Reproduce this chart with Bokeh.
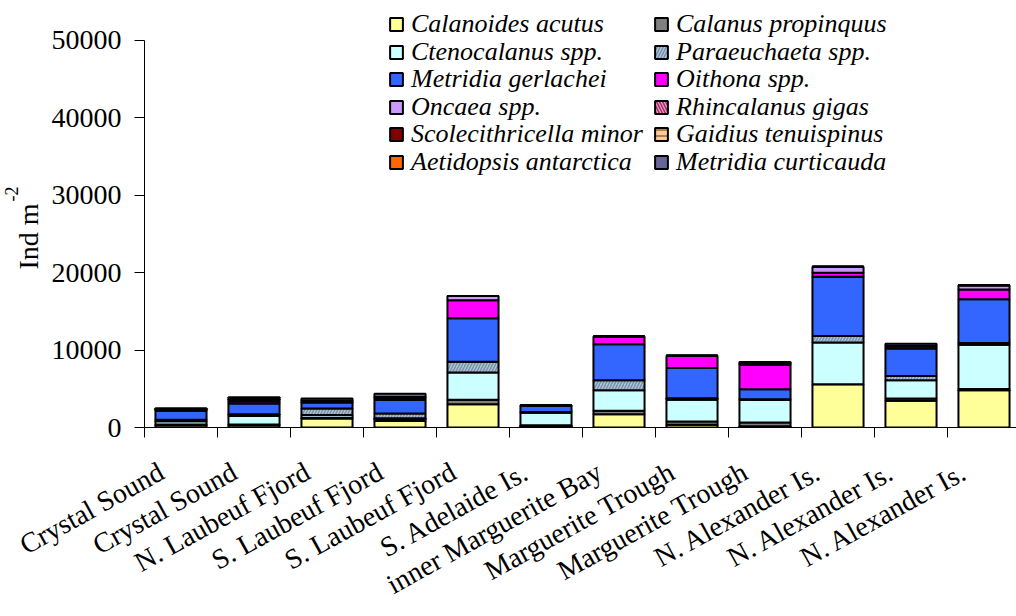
from math import radians
from bokeh.plotting import figure
from bokeh.models import (ColumnDataSource, FixedTicker, Legend, LegendItem, Range1d, Title)
from bokeh.embed import file_html
from bokeh.resources import INLINE

sites = ["Crystal Sound", "Crystal Sound", "N. Laubeuf Fjord", "S. Laubeuf Fjord",
         "S. Laubeuf Fjord", "S. Adelaide Is.", "inner Marguerite Bay", "Marguerite Trough",
         "Marguerite Trough", "N. Alexander Is.", "N. Alexander Is.", "N. Alexander Is."]

species = ["Calanoides acutus", "Calanus propinquus", "Ctenocalanus spp.", "Paraeuchaeta spp.",
           "Metridia gerlachei", "Oithona spp.", "Oncaea spp.", "Rhincalanus gigas",
           "Scolecithricella minor", "Gaidius tenuispinus", "Aetidopsis antarctica",
           "Metridia curticauda"]

calanoides_acutus = [300, 300, 1150, 850, 3010, 150, 1720, 350, 150, 5590, 3440, 4810]
calanus_propinquus = [100, 100, 100, 150, 560, 150, 430, 430, 500, 0, 300, 150]
ctenocalanus_spp = [400, 1100, 350, 200, 3530, 1600, 2670, 2800, 2900, 5380, 2360, 5720]
paraeuchaeta_spp = [200, 200, 850, 600, 1380, 100, 1290, 200, 100, 860, 560, 250]
metridia_gerlachei = [1200, 1400, 800, 1750, 5630, 800, 4640, 3900, 1300, 7650, 3570, 5630]
oithona_spp = [0, 300, 0, 0, 2320, 50, 990, 1590, 3150, 520, 0, 1250]
oncaea_spp = [0, 0, 0, 0, 560, 0, 0, 0, 0, 770, 0, 560]
rhincalanus_gigas = [0, 0, 0, 0, 0, 0, 0, 0, 150, 0, 0, 0]
scolecithricella_minor = [150, 250, 200, 300, 0, 0, 0, 0, 100, 0, 300, 0]
gaidius_tenuispinus = [0, 0, 0, 0, 0, 0, 0, 0, 0, 0, 0, 0]
aetidopsis_antarctica = [0, 0, 0, 100, 0, 0, 0, 0, 0, 0, 0, 0]
metridia_curticauda = [150, 250, 300, 400, 0, 0, 0, 0, 100, 0, 300, 0]

series = [calanoides_acutus, calanus_propinquus, ctenocalanus_spp, paraeuchaeta_spp,
          metridia_gerlachei, oithona_spp, oncaea_spp, rhincalanus_gigas,
          scolecithricella_minor, gaidius_tenuispinus, aetidopsis_antarctica,
          metridia_curticauda]

y_ticks = [0, 10000, 20000, 30000, 40000, 50000]
y_label = "Ind m"
y_label_sup = "-2"

fill_colors = ["#FFFF99", "#808080", "#CCFFFF", "#99CCFF", "#3366FF", "#FF00FF",
               "#CC99FF", "#FF99CC", "#800000", "#FFCC99", "#FF6600", "#666699"]
hatch_patterns = [None, None, None, "/", None, None, None, "\\", None, "-", None, None]
hatch_colors = ["black", "black", "black", "#8C8C8C", "black", "black", "black",
                "#993366", "black", "#996633", "black", "black"]

FONT = "Liberation Serif"
W, H = 1016, 616
FRAME_LEFT, FRAME_TOP, FRAME_BOTTOM = 144, 5, 428
CAT_PX = 73.0                      # pixels per category
PX_PER_UNIT = 388 / 50000          # 0..50000 spans 388 px
LABEL_SHIFT = 0.27                 # rotated labels end slightly left of bar centre

x_pos = [i + 0.5 for i in range(len(sites))]
data = {"x": x_pos}
for name, vals in zip(species, series):
    data[name] = vals
source = ColumnDataSource(data)

y_top = 50000 + (40 - FRAME_TOP) / PX_PER_UNIT
p = figure(width=W, height=H,
           x_range=Range1d(0, (W - FRAME_LEFT) / CAT_PX),
           y_range=Range1d(0, y_top),
           output_backend="svg", toolbar_location=None,
           min_border_left=FRAME_LEFT, min_border_right=0,
           min_border_top=FRAME_TOP, min_border_bottom=H - FRAME_BOTTOM)

renderers = p.vbar_stack(species, x="x", width=0.7, source=source,
                         fill_color=fill_colors, line_color="black", line_width=2,
                         hatch_pattern=hatch_patterns, hatch_color=hatch_colors,
                         hatch_weight=1.5, hatch_scale=6)

p.grid.visible = False
p.outline_line_color = None
p.background_fill_color = "white"

label_ticks = [x - LABEL_SHIFT for x in x_pos]
xa = p.xaxis[0]
xa.ticker = FixedTicker(ticks=label_ticks, minor_ticks=list(range(len(sites))))
xa.major_label_overrides = {x: s for x, s in zip(label_ticks, sites)}
xa.major_label_orientation = radians(29)
xa.major_tick_out = 0
xa.major_tick_in = 0
xa.minor_tick_out = 10
xa.minor_tick_in = 0
xa.major_label_standoff = 32
xa.major_label_text_font = FONT
xa.major_label_text_font_size = "28px"
xa.major_label_text_color = "black"
xa.axis_line_color = "black"

ya = p.yaxis[0]
ya.ticker = FixedTicker(ticks=y_ticks, minor_ticks=[])
ya.bounds = (0, 50000)
ya.major_tick_out = 10
ya.major_tick_in = 0
ya.minor_tick_out = 0
ya.minor_tick_in = 0
ya.major_label_standoff = 13
ya.major_label_text_font = FONT
ya.major_label_text_font_size = "28px"
ya.major_label_text_color = "black"
ya.axis_line_color = "black"

# y-axis title with a raised "-2", as two titles in the left panel
p.add_layout(Title(text=y_label, align="left", offset=158, vertical_align="top",
                   standoff=6, text_font=FONT, text_font_size="28px",
                   text_font_style="normal", text_color="black"), "left")
p.add_layout(Title(text=y_label_sup, align="left", offset=226, vertical_align="bottom",
                   standoff=-16, text_font=FONT, text_font_size="18px",
                   text_font_style="normal", text_color="black"), "left")

# legend: two columns of six rows, one legend per entry for exact row pitch
row_centres = [25, 52.5, 80, 107.5, 135, 162.5]
col_x = [244, 509]
ITEM_HALF = 15
for k in range(len(species)):
    col = k % 2
    r = k // 2
    vy = FRAME_BOTTOM - row_centres[r] - ITEM_HALF
    lg = Legend(items=[LegendItem(label=species[k], renderers=[renderers[k]])],
                location=(col_x[col], vy), orientation="vertical",
                label_text_font=FONT, label_text_font_style="italic",
                label_text_font_size="26px", label_text_color="black",
                glyph_width=16, glyph_height=16, label_standoff=7, spacing=0,
                padding=0, margin=0, label_height=16,
                border_line_alpha=0, background_fill_alpha=0)
    p.add_layout(lg)

open("out.html", "w").write(file_html(p, INLINE))
